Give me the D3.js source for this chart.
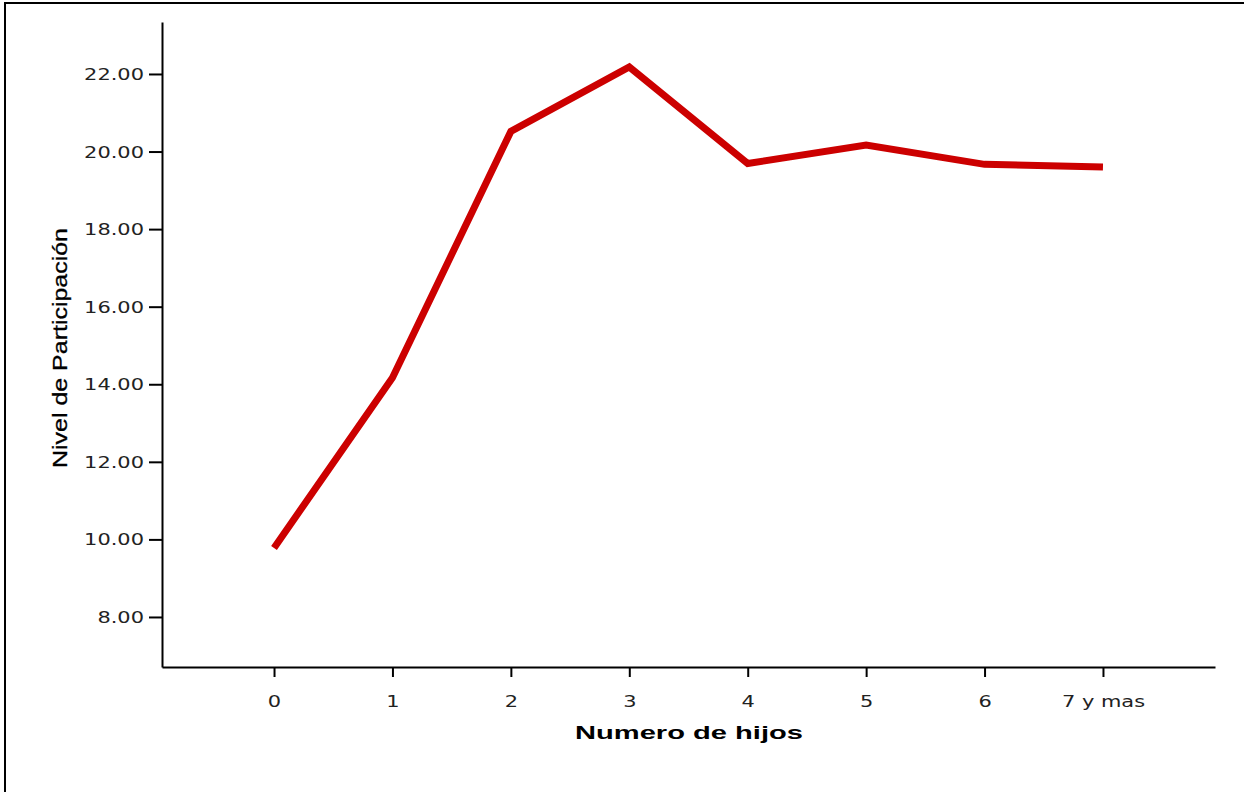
<!DOCTYPE html>
<html>
<head>
<meta charset="utf-8">
<script src="https://cdn.jsdelivr.net/npm/d3@7"></script>
<style>
  html, body { margin: 0; padding: 0; background: #fff; }
  svg { display: block; }
</style>
</head>
<body>
<svg id="chart" width="1244" height="792"></svg>
<script>
const categories = ["0", "1", "2", "3", "4", "5", "6", "7 y mas"];
const values = [9.78, 14.17, 20.52, 22.18, 19.69, 20.17, 19.67, 19.60];
const yTicks = [8, 10, 12, 14, 16, 18, 20, 22];
const xTitle = "Numero de hijos";
const yTitle = "Nivel de Participación";

const svg = d3.select("#chart");
const mLeft = 162, mRight = 1215, mTop = 22, mBottom = 667;
const stretch = 1.35;

// frame
svg.append("rect")
  .attr("x", 5).attr("y", 3).attr("width", 1300).attr("height", 900)
  .attr("fill", "none").attr("stroke", "#000").attr("stroke-width", 2);

const x = d3.scalePoint().domain(categories).range([mLeft, mRight]).padding(0.946);
const y = d3.scaleLinear().domain([6.71, 23.34]).range([mBottom, mTop]);

const textColor = "#222";

const gy = svg.append("g").attr("transform", `translate(${mLeft},0)`)
  .call(d3.axisLeft(y).tickValues(yTicks).tickFormat(d3.format(".2f")).tickSize(13).tickSizeOuter(0).tickPadding(5));
const gx = svg.append("g").attr("transform", `translate(0,${mBottom})`)
  .call(d3.axisBottom(x).tickSize(10).tickSizeOuter(0).tickPadding(8));

[gy, gx].forEach(g => {
  g.select(".domain").attr("stroke", "#000").attr("stroke-width", 2);
  g.selectAll(".tick line").attr("stroke", "#000").attr("stroke-width", 2);
  g.selectAll(".tick text")
    .attr("font-family", "DejaVu Sans, sans-serif")
    .attr("font-size", 15.5)
    .attr("fill", textColor);
});
gx.selectAll(".tick text").attr("dy", "0").attr("y", 40);
gy.selectAll(".tick text").attr("dy", "0.36em");

svg.selectAll(".tick text").each(function() {
  const w = this.getComputedTextLength();
  d3.select(this).attr("textLength", w * stretch).attr("lengthAdjust", "spacingAndGlyphs");
});

// line
const line = d3.line().x((d, i) => x(categories[i])).y(d => y(d));
svg.append("path")
  .datum(values)
  .attr("d", line)
  .attr("fill", "none")
  .attr("stroke", "#cc0000")
  .attr("stroke-width", 7)
  .attr("stroke-linejoin", "miter");

// axis titles
const xt = svg.append("text")
  .attr("x", (mLeft + mRight) / 2 + 0.5).attr("y", 739)
  .attr("text-anchor", "middle")
  .attr("font-family", "Liberation Sans, Arial, sans-serif")
  .attr("font-weight", "bold")
  .attr("font-size", 19)
  .attr("fill", "#000")
  .text(xTitle);
xt.attr("textLength", 228).attr("lengthAdjust", "spacingAndGlyphs");

const yt = svg.append("text")
  .attr("transform", "translate(67,348) rotate(-90)")
  .attr("text-anchor", "middle")
  .attr("font-family", "Liberation Sans, Arial, sans-serif")
  .attr("font-size", 21)
  .attr("fill", "#000")
  .attr("stroke", "#000")
  .attr("stroke-width", 0.3)
  .text(yTitle);
yt.attr("textLength", 240).attr("lengthAdjust", "spacingAndGlyphs");
</script>
</body>
</html>
